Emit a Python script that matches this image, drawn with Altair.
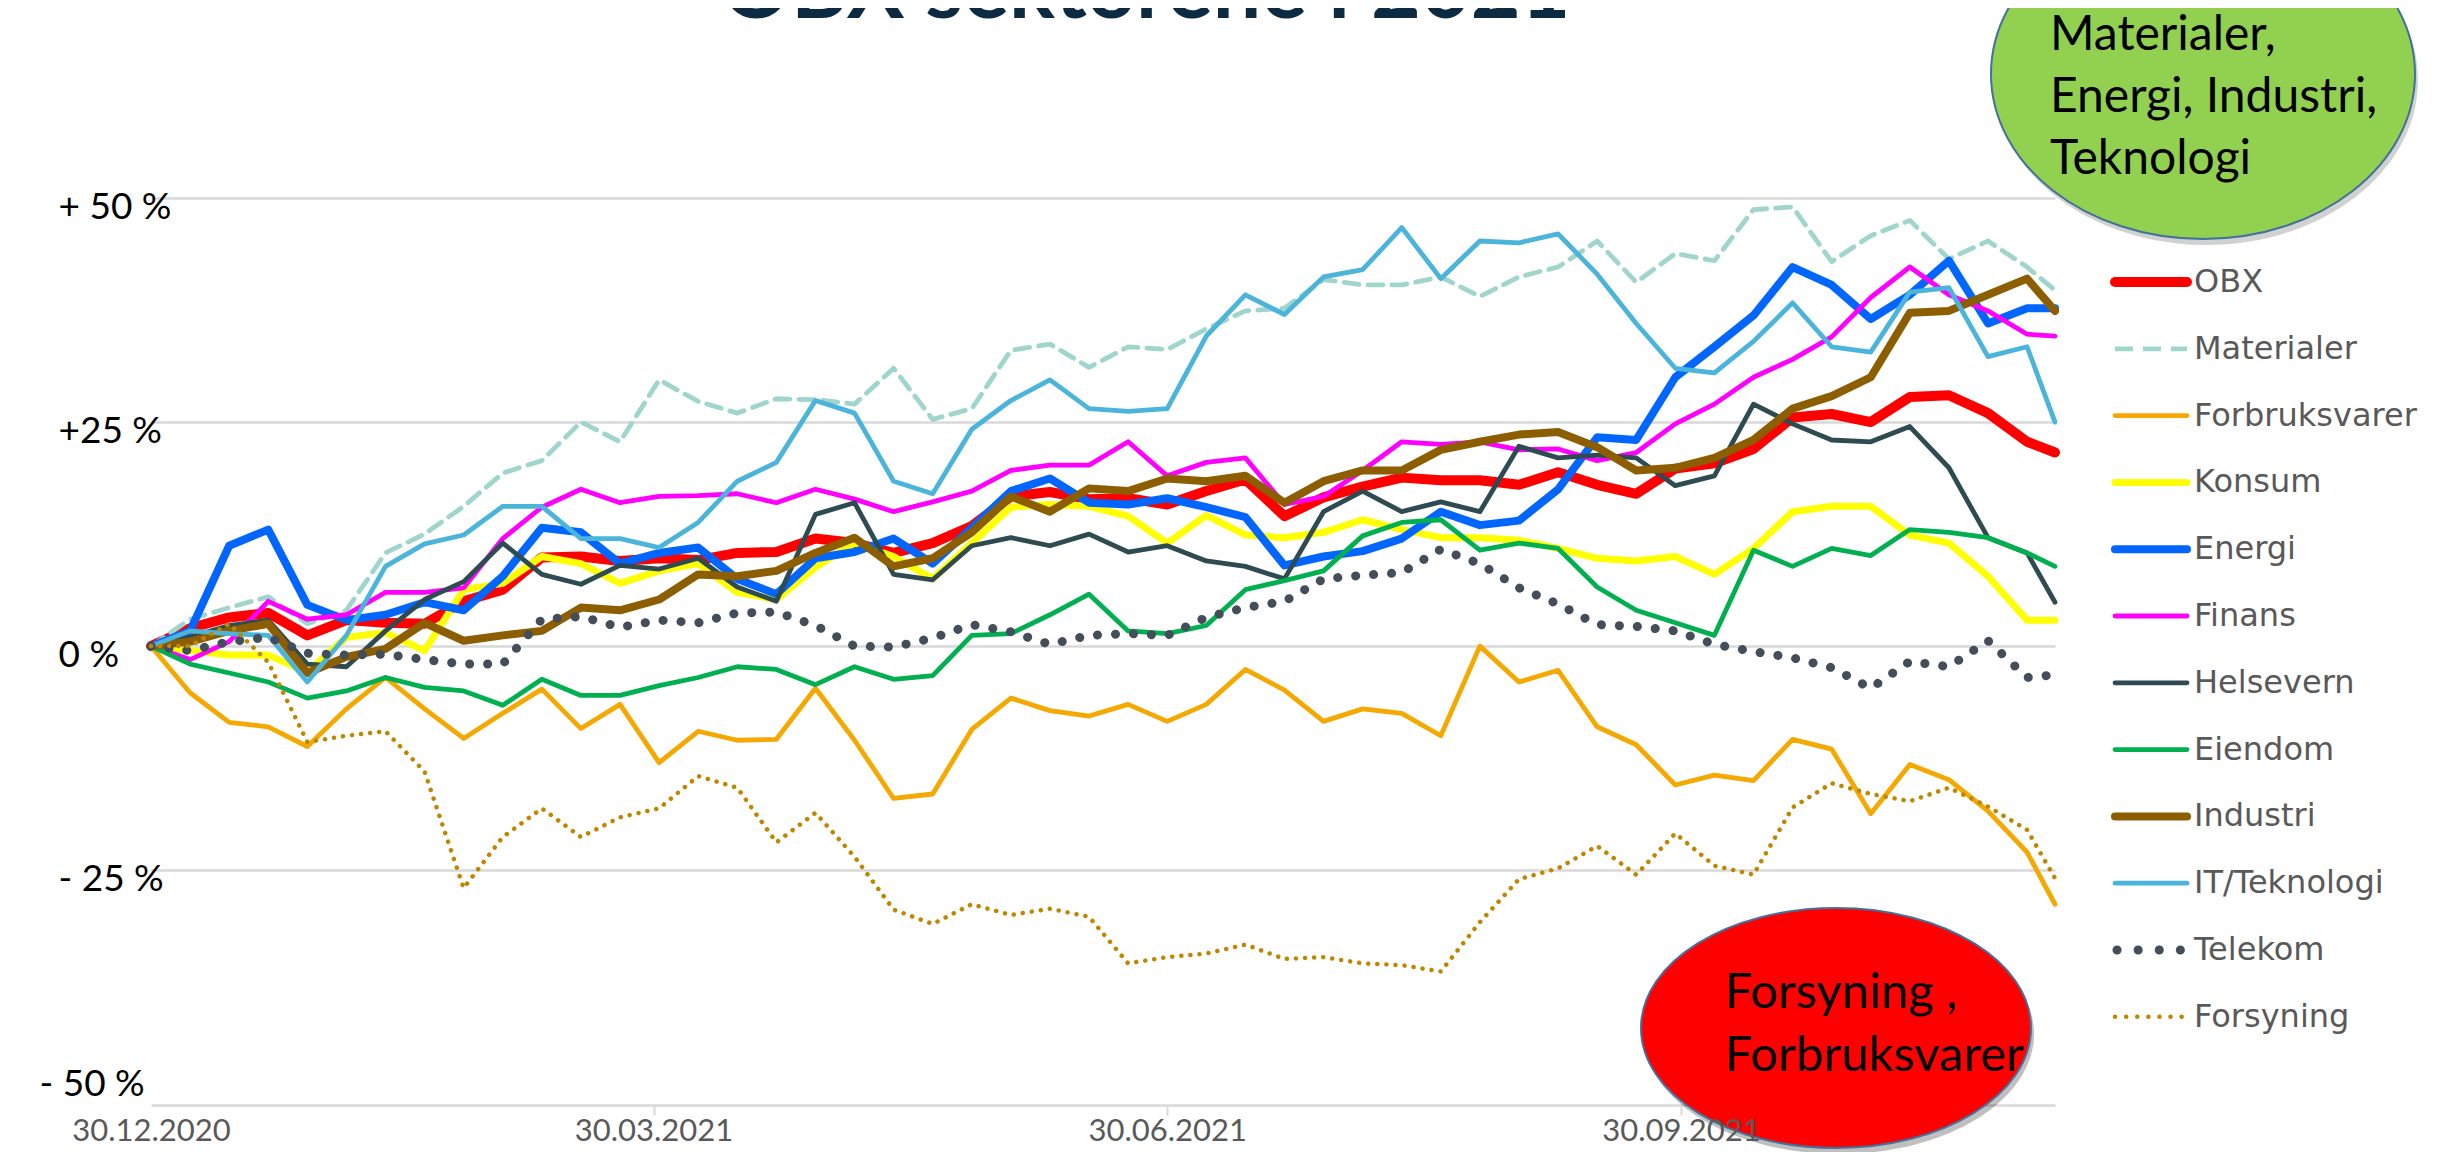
import altair as alt
import pandas as pd

# ---------------- data ----------------
days = [0, 7, 14, 21, 28, 35, 42, 49, 56, 63, 70, 77, 84,
        91, 98, 105, 112, 119, 126, 133, 140, 147, 154, 161, 168,
        175, 182, 189, 196, 203, 210, 217, 224, 231, 238, 245, 252,
        259, 266, 273, 280, 287, 294, 301, 308, 315, 322, 329, 336, 341]

series_names = ["OBX", "Materialer", "Forbruksvarer", "Konsum", "Energi", "Finans",
                "Helsevern", "Eiendom", "Industri", "IT/Teknologi", "Telekom", "Forsyning"]

obx = [0, 2, 3.2, 3.7, 1.2, 2.9, 2.6, 2.5, 5, 6.3, 9.9, 10, 9.5,
       9.8, 9.6, 10.4, 10.5, 12, 11.5, 10.4, 11.5, 13.4, 16.7, 17.2, 16.4,
       16.5, 15.8, 17.3, 18.6, 14.5, 16.6, 17.8, 18.8, 18.5, 18.5, 18, 19.4,
       18, 17, 19.8, 20.4, 22, 25.5, 25.9, 25, 27.8, 28, 26, 22.8, 21.6]
materialer = [0, 3, 4.3, 5.5, 2.5, 4, 10.4, 12.5, 15.6, 19.3, 20.7, 25, 22.8,
              29.7, 27.3, 26, 27.6, 27.5, 27, 31, 25.3, 26.5, 33, 33.7, 31.1,
              33.4, 33.1, 35.4, 37.4, 37.7, 40.9, 40.3, 40.3, 41.2, 39, 41.2, 42.3,
              45.2, 40.6, 43.8, 43, 48.7, 49, 42.9, 45.8, 47.5, 43.2, 45.2, 42.3, 39.7]
forbruksvarer = [0, -5.2, -8.5, -9, -11.2, -7, -3.5, -7, -10.3, -7.5, -4.8, -9.2, -6.5,
                 -13, -9.5, -10.5, -10.4, -4.7, -10.5, -17, -16.5, -9.3, -5.8, -7.2, -7.8,
                 -6.5, -8.4, -6.5, -2.6, -4.9, -8.4, -7, -7.5, -10, 0, -4, -2.7,
                 -9, -11, -15.5, -14.4, -15, -10.4, -11.5, -18.7, -13.2, -14.9, -18.4, -23, -28.8]
konsum = [0, -0.5, -1, -1, -2.9, 1, 1.5, -0.5, 6.3, 7, 10, 9.2, 7,
          8.4, 9.2, 6, 5.2, 8.8, 11.5, 10, 7.5, 11.5, 15.5, 15.8, 15.6,
          14.5, 11.5, 14.6, 12.4, 12.1, 12.7, 14.1, 13, 12.1, 12.1, 11.8, 10.9,
          9.8, 9.5, 10, 8, 10.9, 15, 15.6, 15.6, 12.4, 11.5, 7.8, 2.9, 2.9]
energi = [0, 1.7, 11.2, 13, 4.6, 2.9, 3.5, 4.9, 4, 7.8, 13.2, 12.7, 9.2,
          10.4, 11, 7.5, 5.8, 9.8, 10.5, 12, 9.2, 13.2, 17.3, 18.7, 16,
          15.8, 16.5, 15.5, 14.4, 9, 10, 10.6, 12, 15, 13.5, 14, 17.5,
          23.3, 23, 30, 33.4, 36.9, 42.3, 40.3, 36.5, 39.2, 43, 36, 37.7, 37.7]
finans = [0, -1.5, 0.5, 5, 3, 3.5, 6, 6, 6.5, 12, 15.5, 17.5, 16,
          16.7, 16.8, 17, 16, 17.5, 16.4, 15, 16.1, 17.3, 19.6, 20.2, 20.2,
          22.8, 19, 20.5, 21, 15.8, 16.7, 19.6, 22.8, 22.5, 22.8, 21.9, 22,
          20.7, 21.6, 24.8, 27, 30, 32, 34.5, 38.9, 42.3, 39.2, 37.4, 34.8, 34.6]
helsevern = [0, 1, 2.3, 2.9, -2, -2.3, 1.7, 5.2, 7.2, 11.5, 8, 6.9, 9,
             8.6, 9.8, 6.6, 5, 14.7, 16, 8, 7.4, 11.2, 12.1, 11.2, 12.5,
             10.5, 11.2, 9.5, 8.9, 7.5, 15, 17.3, 15, 16.1, 15, 22.3, 21,
             21.3, 21, 17.9, 19, 27, 24.8, 23, 22.8, 24.5, 19.9, 12.1, 10.4, 4.9]
eiendom = [0, -2, -3, -4, -5.8, -5, -3.5, -4.6, -5, -6.6, -3.7, -5.5, -5.5,
           -4.4, -3.5, -2.3, -2.6, -4.3, -2.3, -3.7, -3.3, 1.2, 1.4, 3.5, 5.8,
           1.7, 1.4, 2.3, 6.3, 7.3, 8.4, 12.3, 13.8, 14.1, 10.7, 11.5, 10.9,
           6.6, 4, 2.6, 1.2, 10.7, 8.9, 10.9, 10.1, 13, 12.7, 12.1, 10.4, 8.9]
industri = [0, 0.5, 1.7, 2.5, -3, -1.2, -0.3, 2.6, 0.6, 1.2, 1.7, 4.3, 4,
            5.2, 8, 7.8, 8.4, 10.4, 12.1, 8.9, 9.8, 12.7, 16.7, 15, 17.6,
            17.3, 18.7, 18.4, 19, 16, 18.4, 19.6, 19.6, 21.9, 22.8, 23.6, 23.9,
            22.2, 19.6, 19.9, 21, 23, 26.5, 27.9, 30, 37.2, 37.4, 39.2, 41, 37.4]
it_teknologi = [0, 1.7, 1.4, 1.2, -4, 1.2, 8.9, 11.4, 12.4, 15.6, 15.6, 12, 12,
                11, 13.8, 18.4, 20.5, 27.4, 26, 18.4, 17, 24.2, 27.4, 29.7, 26.5,
                26.2, 26.5, 34.6, 39.2, 37, 41.2, 42, 46.7, 41, 45.2, 45, 46,
                41.5, 36, 31, 30.5, 34, 38.3, 33.4, 32.8, 39.5, 40, 32.3, 33.4, 25]
telekom = [0, -0.5, 0.5, 1, -0.8, -1, -0.9, -1.5, -2, -2, 3, 3.3, 2.1,
           2.9, 2.6, 3.7, 3.8, 2.3, 0, -0.1, 0.9, 2.4, 1.6, 0.2, 1.2,
           1.4, 1.2, 3.2, 4.3, 5, 7.5, 7.9, 8.2, 10.8, 9.2, 6.5, 4.7,
           2.4, 2.2, 1.7, 0.2, -0.6, -1.3, -2.4, -4.7, -1.7, -2.3, 0.6, -3.5, -3.2]
forsyning = [0, 0, 2.5, -1.8, -10.7, -10, -9.5, -14, -27, -21.3, -18.1, -21.3, -19.1,
             -18.1, -14.5, -15.8, -21.9, -18.6, -23.5, -29.4, -31, -28.8, -30, -29.3, -30.2,
             -35.4, -34.7, -34.3, -33.3, -34.9, -34.7, -35.4, -35.6, -36.3, -30.8, -26, -24.8,
             -22.3, -25.5, -20.9, -24.5, -25.5, -18, -15.3, -16.5, -17.3, -15.8, -17.9, -20.5, -25.9]

values = [obx, materialer, forbruksvarer, konsum, energi, finans,
          helsevern, eiendom, industri, it_teknologi, telekom, forsyning]

x_tick_days = [0, 90, 182, 274]
x_tick_labels = ["30.12.2020", "30.03.2021", "30.06.2021", "30.09.2021"]
y_tick_values = [-50, -25, 0, 25, 50]
y_tick_labels = ["- 50 %", "- 25 %", "0 %", "+25 %", "+ 50 %"]
y_min = -51.2   # bottom axis line sits a little below the -50 label

title_text = "OBX sektorene i 2021"
green_lines = ["Materialer,", "Energi, Industri,", "Teknologi"]
red_lines = ["Forsyning ,", "Forbruksvarer"]

# ---------------- styles ----------------
styles = {
    "OBX": dict(color="#FF0000", strokeWidth=10),
    "Materialer": dict(color="#A0D5CD", strokeWidth=4.8, strokeDash=[15, 9]),
    "Forbruksvarer": dict(color="#F4A800", strokeWidth=4.8),
    "Konsum": dict(color="#FFFF00", strokeWidth=7),
    "Energi": dict(color="#0066FF", strokeWidth=8),
    "Finans": dict(color="#FF00FF", strokeWidth=4.8),
    "Helsevern": dict(color="#2F4B52", strokeWidth=4.8),
    "Eiendom": dict(color="#00B050", strokeWidth=4.8),
    "Industri": dict(color="#8C5E00", strokeWidth=8),
    "IT/Teknologi": dict(color="#4BB4DA", strokeWidth=4.8),
    "Telekom": dict(color="#434E5A", strokeWidth=9, strokeDash=[0.1, 17.9]),
    "Forsyning": dict(color="#BF8700", strokeWidth=4.5, strokeDash=[0.1, 9]),
}
legend_dash = {"Materialer": [18, 10], "Telekom": [0.1, 21], "Forsyning": [0.1, 11]}

LABEL_FONT = "Lato"
LEGEND_FONT = "DejaVu Sans"

W, H = 1904, 907

def label_expr(vals, labels):
    return " : ".join(f"datum.value == {v} ? '{l}'" for v, l in zip(vals, labels)) + " : ''"

x_scale = alt.Scale(domain=[0, 341], nice=False, zero=False)
y_scale = alt.Scale(domain=[y_min, 50], nice=False, zero=False)

x_axis = alt.Axis(values=x_tick_days, labelExpr=label_expr(x_tick_days, x_tick_labels),
                  grid=False, domain=False, zindex=1,
                  ticks=True, tickColor="#D9D9D9", tickWidth=2, tickSize=10,
                  tickOpacity={"condition": {"test": "datum.value === 0", "value": 0}, "value": 1},
                  labelFont=LABEL_FONT, labelFontSize=31, labelColor="#595959",
                  labelPadding=1, labelFlush=False, labelOverlap=False, title=None)

y_axis = alt.Axis(values=[y_min] + y_tick_values, labelExpr=label_expr(y_tick_values, y_tick_labels),
                  grid=True, gridColor="#D9D9D9", gridWidth=2.5,
                  gridOpacity={"condition": {"test": "datum.value === -50", "value": 0}, "value": 1},
                  domain=False, ticks=False, tickSize=0,
                  labelFont=LABEL_FONT, labelFontSize=37, labelColor="#000000",
                  labelAlign="left", labelBaseline="middle",
                  labelPadding={"condition": {"test": "datum.value === -50", "value": 112}, "value": 93},
                  labelOffset={"condition": {"test": "datum.value === -50", "value": -10}, "value": 9},
                  labelOverlap=False, title=None)

layers = []
for i, (name, vals) in enumerate(zip(series_names, values)):
    df = pd.DataFrame({"day": days, "value": vals, "series": name})
    st = styles[name]
    mk = dict(color=st["color"], strokeWidth=st["strokeWidth"], strokeJoin="round", strokeCap="round")
    if "strokeDash" in st:
        mk["strokeDash"] = st["strokeDash"]
    ch = alt.Chart(df).mark_line(**mk).encode(
        x=alt.X("day:Q", scale=x_scale, axis=x_axis),
        y=alt.Y("value:Q", scale=y_scale, axis=y_axis),
    )
    layers.append(ch)

one = pd.DataFrame({"a": [0]})

def ellipse_path(ry):
    c = 0.5523
    return (f"M 1 0 C 1 {c*ry:.4f} {c:.4f} {ry:.4f} 0 {ry:.4f} "
            f"C {-c:.4f} {ry:.4f} -1 {c*ry:.4f} -1 0 "
            f"C -1 {-c*ry:.4f} {-c:.4f} {-ry:.4f} 0 {-ry:.4f} "
            f"C {c:.4f} {-ry:.4f} 1 {-c*ry:.4f} 1 0 Z")

def ellipse(cx, cy, rx, ry, fill, stroke=None, opacity=1.0):
    kw = dict(shape=ellipse_path(ry / rx), size=(2 * rx) ** 2, filled=True,
              fill=fill, opacity=opacity, fillOpacity=1)
    if stroke:
        kw.update(stroke=stroke, strokeWidth=2)
    else:
        kw.update(strokeWidth=0)
    return alt.Chart(one).mark_point(**kw).encode(x=alt.value(cx), y=alt.value(cy))

# plot origin is at page (151, 198)
# green ellipse
layers.append(ellipse(2055, -118, 212, 165, "#000000", opacity=0.18))
layers.append(ellipse(2052, -124, 212, 165, "#92D050", stroke="#41719C"))
# red ellipse
layers.append(ellipse(1688, 836, 195, 120, "#000000", opacity=0.25))
layers.append(ellipse(1685, 830, 195, 120, "#FF0000", stroke="#41719C"))

def text(t, x, y, size, color="#000000", font=LABEL_FONT, weight="normal",
         align="left", baseline="middle"):
    return alt.Chart(one).mark_text(text=t, font=font, fontSize=size, fontWeight=weight,
                                    color=color, align=align, baseline=baseline).encode(
        x=alt.value(x), y=alt.value(y))

for j, t in enumerate(green_lines):
    layers.append(text(t, 1899, -162 + 62 * j, 48))
for j, t in enumerate(red_lines):
    layers.append(text(t, 1574, 795 + 63 * j, 49))

# cut-off title at the very top
layers.append(text(title_text, 995, -180, 86, color="#0C2A42", weight="bold",
                   align="center", baseline="alphabetic"))

# legend
for i, name in enumerate(series_names):
    st = styles[name]
    y = 84 + 66.8 * i
    rk = dict(color=st["color"], strokeWidth=st["strokeWidth"], strokeCap="round")
    x1, x2 = 1964, 2036
    if name in legend_dash:
        rk["strokeDash"] = legend_dash[name]
        rk["strokeCap"] = "round" if name in ("Telekom", "Forsyning") else "butt"
    if name == "Telekom":
        x1, x2 = 1966, 2032
    layers.append(alt.Chart(one).mark_rule(**rk).encode(
        x=alt.value(x1), x2=alt.value(x2), y=alt.value(y)))
    layers.append(text(name, 2043, y, 32, color="#595959", font=LEGEND_FONT))

chart = alt.layer(*layers).properties(
    width=W, height=H,
    autosize=alt.AutoSizeParams(type="none"),
    padding={"left": 143, "top": 190, "right": 393, "bottom": 47},
    background="#FFFFFF",
).configure_view(stroke=None)

chart.save("out.html", embed_options={"renderer": "svg", "actions": False})
